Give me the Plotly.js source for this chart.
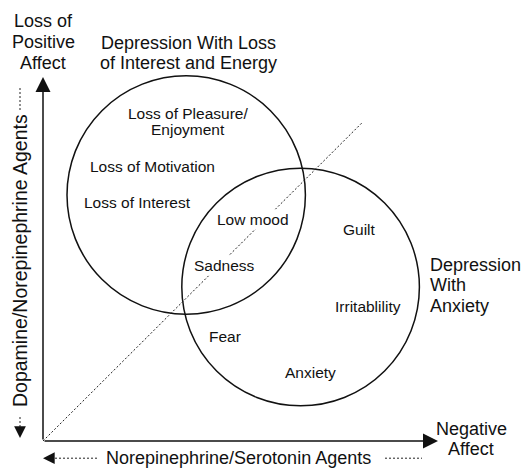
<!DOCTYPE html>
<html>
<head>
<meta charset="utf-8">
<script src="https://cdn.plot.ly/plotly-3.0.1.min.js"></script>
<style>html,body{margin:0;padding:0;background:#fff;}#chart{width:524px;height:468px;}</style>
</head>
<body>
<div id="chart"></div>
<script>
// Conceptual map: x = Negative Affect, y = Loss of Positive Affect
const axisNames = ["Negative<br>Affect", "Loss of<br>Positive<br>Affect"];
const axisEnds = [9.875, 9.1];           // extent of x axis, y axis
const agentNames = ["Norepinephrine/Serotonin Agents", "Dopamine/Norepinephrine Agents"];

const clusterNames = ["Depression With Loss<br>of Interest and Energy", "Depression<br>With<br>Anxiety"];
const clusterX = [3.58, 6.44];
const clusterY = [6.15, 3.85];
const clusterR = [2.98, 2.97];
const clusterLabelX = [3.625, 9.625];
const clusterLabelY = [9.7, 3.9];

const symptomNames = ["Loss of Pleasure/<br>Enjoyment", "Loss of Motivation", "Loss of Interest",
  "Low mood", "Sadness", "Guilt", "Irritablility", "Fear", "Anxiety"];
const symptomX = [3.625, 2.725, 2.35, 5.25, 4.54, 7.9, 8.125, 4.55, 6.69];
const symptomY = [8.0, 6.875, 5.975, 5.55, 4.4, 5.3, 3.375, 2.625, 1.725];

const diagonalEnd = [7.97, 7.95];

const FONT = "Liberation Sans, Arial, Helvetica, sans-serif";
const INK = "#111";
const shapes = [];
const annotations = [];

// multi-line text with controlled line spacing
function addText(text, x, y, size, gap, extra) {
  const lines = text.split("<br>");
  const n = lines.length;
  lines.forEach((ln, k) => {
    annotations.push(Object.assign({x: x, y: y, xref: "x", yref: "y", text: ln, showarrow: false,
      yshift: ((n - 1) / 2 - k) * gap, font: {family: FONT, size: size, color: INK}}, extra || {}));
  });
}

// circles
for (let i = 0; i < clusterNames.length; i++) {
  shapes.push({type: "circle", xref: "x", yref: "y",
    x0: clusterX[i] - clusterR[i], x1: clusterX[i] + clusterR[i],
    y0: clusterY[i] - clusterR[i], y1: clusterY[i] + clusterR[i],
    line: {color: INK, width: 1.5}, fillcolor: "rgba(0,0,0,0)"});
}
// dotted diagonal
shapes.push({type: "line", xref: "x", yref: "y", x0: 0, y0: 0, x1: diagonalEnd[0], y1: diagonalEnd[1],
  line: {color: "#222", width: 1, dash: "2px,2px"}});

// axes arrows
annotations.push({x: axisEnds[0], y: 0, ax: 0, ay: 0, xref: "x", yref: "y", axref: "x", ayref: "y",
  text: "", showarrow: true, arrowhead: 2, arrowsize: 2, arrowwidth: 1.5, arrowcolor: INK, standoff: 0});
annotations.push({x: 0, y: axisEnds[1], ax: 0, ay: 0, xref: "x", yref: "y", axref: "x", ayref: "y",
  text: "", showarrow: true, arrowhead: 2, arrowsize: 2, arrowwidth: 1.5, arrowcolor: INK, standoff: 0});

// axis names
addText(axisNames[0], 10.7, 0.05, 18, 20);
addText(axisNames[1], 0, 9.975, 18, 21);

// agent labels (horizontal, bottom)
const agY = -0.43;
annotations.push({x: 4.89, y: agY, xref: "x", yref: "y", text: agentNames[0], showarrow: false,
  font: {family: FONT, size: 18, color: INK}});
shapes.push({type: "line", xref: "x", yref: "y", x0: 0.3, x1: 1.35, y0: agY, y1: agY,
  line: {color: "#222", width: 1, dash: "2px,2px"}});
shapes.push({type: "line", xref: "x", yref: "y", x0: 8.55, x1: 9.475, y0: agY, y1: agY,
  line: {color: "#222", width: 1, dash: "2px,2px"}});
annotations.push({x: 0, y: agY, ax: 0.3, ay: agY, xref: "x", yref: "y", axref: "x", ayref: "y",
  text: "", showarrow: true, arrowhead: 2, arrowsize: 1.8, arrowwidth: 1.3, arrowcolor: INK, standoff: 0});

// agent labels (vertical, left)
const agX = -0.575;
annotations.push({x: agX, y: 4.5, xref: "x", yref: "y", text: agentNames[1], showarrow: false,
  textangle: -90, font: {family: FONT, size: 19.5, color: INK}});
shapes.push({type: "line", xref: "x", yref: "y", x0: agX, x1: agX, y0: 8.275, y1: 8.825,
  line: {color: "#222", width: 1, dash: "2px,2px"}});
shapes.push({type: "line", xref: "x", yref: "y", x0: agX, x1: agX, y0: 0.35, y1: 0.62,
  line: {color: "#222", width: 1, dash: "2px,2px"}});
annotations.push({x: agX, y: 0.075, ax: agX, ay: 0.35, xref: "x", yref: "y", axref: "x", ayref: "y",
  text: "", showarrow: true, arrowhead: 2, arrowsize: 1.8, arrowwidth: 1.3, arrowcolor: INK, standoff: 0});

// cluster labels
addText(clusterNames[0], clusterLabelX[0], clusterLabelY[0], 18, 20);
addText(clusterNames[1], clusterLabelX[1], clusterLabelY[1], 18, 20.5, {xanchor: "left"});

// symptoms
for (let i = 0; i < symptomNames.length; i++) {
  addText(symptomNames[i], symptomX[i], symptomY[i], 15.5, 16, {bgcolor: "#fff", borderpad: 1});
}

const layout = {
  width: 524, height: 468,
  margin: {l: 0, r: 0, t: 0, b: 0},
  paper_bgcolor: "#fff", plot_bgcolor: "#fff",
  showlegend: false,
  xaxis: {range: [-1.075, 12.025], visible: false, fixedrange: true},
  yaxis: {range: [-0.675, 11.025], visible: false, fixedrange: true},
  shapes: shapes,
  annotations: annotations
};

Plotly.newPlot("chart", [{x: [], y: [], type: "scatter", mode: "markers", hoverinfo: "skip"}], layout,
  {staticPlot: true, displayModeBar: false});
</script>
</body>
</html>
